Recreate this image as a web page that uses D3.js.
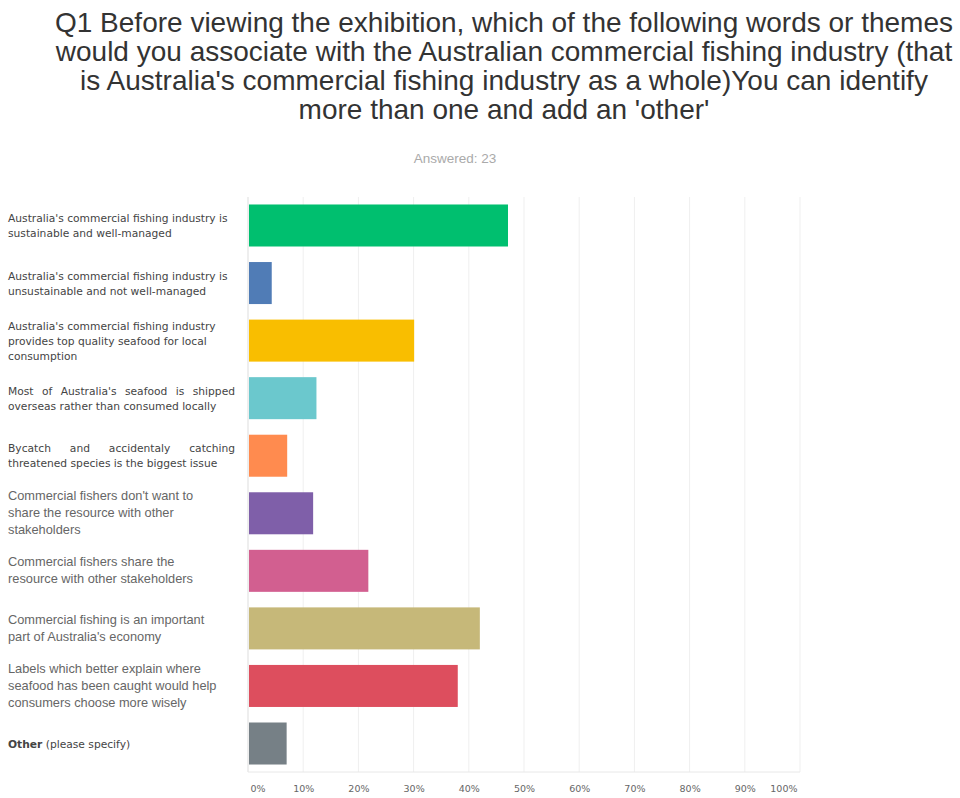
<!DOCTYPE html>
<html><head><meta charset="utf-8">
<script src="https://cdn.jsdelivr.net/npm/d3@7"></script>
<style>body{margin:0;background:#fff;} svg{display:block;}</style>
</head><body>
<svg id="c" width="960" height="798"></svg>
<script>
const titleLines = [
  "Q1 Before viewing the exhibition, which of the following words or themes",
  "would you associate with the Australian commercial fishing industry (that",
  "is Australia's commercial fishing industry as a whole)You can identify",
  "more than one and add an 'other'"
];
const answered = "Answered: 23";
const categories = [
  ["Australia's commercial fishing industry is", "sustainable and well-managed"],
  ["Australia's commercial fishing industry  is", "unsustainable and not well-managed"],
  ["Australia's commercial fishing industry", "provides top quality seafood for local", "consumption"],
  ["Most of Australia's seafood is shipped", "overseas rather than consumed locally"],
  ["Bycatch and accidentaly catching", "threatened species is the biggest issue"],
  ["Commercial fishers don't want to", "share the resource with other", "stakeholders"],
  ["Commercial fishers share the", "resource with other stakeholders"],
  ["Commercial fishing is an important", "part of Australia's economy"],
  ["Labels which better explain where", "seafood has been caught would help", "consumers choose more wisely"],
  ["Other (please specify)"]
];
const values = [47.1, 4.3, 30.1, 12.4, 7.1, 11.8, 21.8, 42.0, 38.0, 7.0];
const colors = ["#00BF6F","#507CB6","#F9BE00","#6BC8CD","#FF8B4F","#7F5FA9","#D25F90","#C6B879","#DD4E5E","#768086"];
const tickValues = [0,10,20,30,40,50,60,70,80,90,100];
const justified = [3, 4];

(function(){
const svg = d3.select("#c");
const L = 248, R = 800, T = 197, B = 772;
const labelBoxWidth = 227;

svg.append("g").selectAll("text").data(titleLines).join("text")
  .attr("x", 504).attr("y", (d,i)=> 32 + i*29)
  .attr("text-anchor","middle")
  .attr("font-family","Liberation Sans, Arial, sans-serif")
  .attr("font-size", 28).attr("fill","#333")
  .text(d=>d);

svg.append("text").attr("x", 455).attr("y", 163).attr("text-anchor","middle")
  .attr("font-family","Liberation Sans, Arial, sans-serif").attr("font-size",13.5)
  .attr("fill","#aaa").text(answered);

const x = d3.scaleLinear().domain([0,100]).range([L,R]);
const y = d3.scaleBand().domain(d3.range(categories.length)).range([T,B]).paddingInner(0.27).paddingOuter(0.13);

svg.append("g").selectAll("line").data(tickValues.slice(1)).join("line")
  .attr("x1",d=>x(d)).attr("x2",d=>x(d)).attr("y1",T).attr("y2",B)
  .attr("stroke","#efefef").attr("stroke-width",1);

svg.append("g").selectAll("rect").data(values).join("rect")
  .attr("x", x(0)+1).attr("y",(d,i)=>y(i)).attr("width",d=>x(d)-x(0)-1).attr("height",y.bandwidth())
  .attr("fill",(d,i)=>colors[i]);

svg.append("line").attr("x1",L).attr("x2",L).attr("y1",T).attr("y2",B).attr("stroke","#ddd");
svg.append("line").attr("x1",L).attr("x2",R).attr("y1",B).attr("y2",B).attr("stroke","#e8e8e8");

const ax = svg.append("g").attr("transform",`translate(0,${B})`)
  .call(d3.axisBottom(x).tickValues(tickValues).tickFormat(d=>d+"%").tickSize(0).tickPadding(13));
ax.select(".domain").remove();
ax.selectAll("text").attr("font-family","DejaVu Sans, sans-serif").attr("font-size",9.5).attr("fill","#666");
ax.selectAll(".tick").filter(d=>d===0).select("text").attr("text-anchor","start").attr("dx",2);
ax.selectAll(".tick").filter(d=>d===100).select("text").attr("text-anchor","end").attr("dx",-3);

const lg = svg.append("g");
categories.forEach((lines,i)=>{
  const cy = y(i) + y.bandwidth()/2;
  const n = lines.length;
  const g2 = i>=5 && i<=8;
  const lh = g2 ? 17 : 15;
  const t = lg.append("text")
    .attr("font-family", g2 ? "Liberation Sans, Arial, sans-serif" : "DejaVu Sans, sans-serif")
    .attr("font-size", g2 ? 12.8 : 10.7).attr("fill", g2 ? "#666" : "#444");
  lines.forEach((ln,j)=>{
    const row = t.append("tspan").attr("x",8).attr("y", cy + (j-(n-1)/2)*lh + 4);
    if (i === 9) {
      const w = ln.split(" (");
      row.append("tspan").attr("font-weight","bold").text(w[0]);
      row.append("tspan").text(" (" + w[1]);
      return;
    }
    if (justified.includes(i) && j < n-1) {
      // justify by distributing the extra space between words
      const words = ln.split(" ");
      const widths = words.map(wd => { row.text(wd); return row.node().getComputedTextLength(); });
      row.text(null);
      const gap = (labelBoxWidth - d3.sum(widths)) / (words.length - 1);
      let cx = 8;
      words.forEach((wd,k)=>{
        t.append("tspan").attr("x", cx).attr("y", cy + (j-(n-1)/2)*lh + 4).text(wd);
        cx += widths[k] + gap;
      });
    } else {
      row.text(ln);
    }
  });
});
})();
</script>
</body></html>
